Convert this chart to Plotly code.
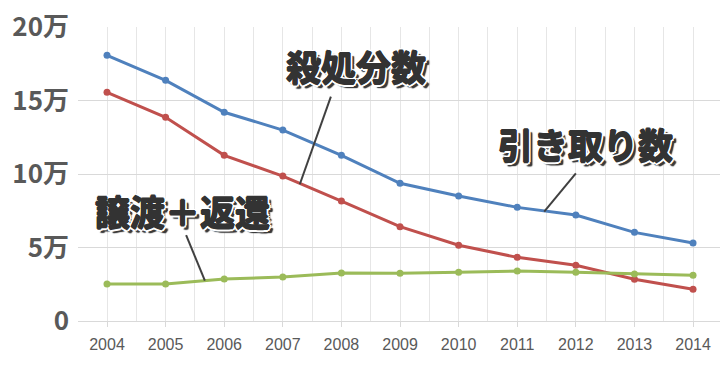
import plotly.graph_objects as go

years = [2004, 2005, 2006, 2007, 2008, 2009, 2010, 2011, 2012, 2013, 2014]
hikitori = [180700, 163700, 142000, 129900, 112700, 93700, 85000, 77300, 72100, 60300, 53100]
satsushobun = [155600, 138600, 112700, 98600, 81600, 64200, 51500, 43300, 37900, 28400, 21600]
joto_henkan = [25200, 25200, 28600, 29900, 32700, 32400, 33100, 34000, 33100, 32000, 31100]

ytick_vals = [0, 50000, 100000, 150000, 200000]
ytick_text = ["0", "5万", "10万", "15万", "20万"]

colors = {"hikitori": "#4F81BD", "satsu": "#C0504D", "joto": "#9BBB59"}

fig = go.Figure()
for name, vals, c in [("引き取り数", hikitori, colors["hikitori"]),
                      ("殺処分数", satsushobun, colors["satsu"]),
                      ("譲渡＋返還", joto_henkan, colors["joto"])]:
    fig.add_trace(go.Scatter(x=years, y=vals, mode="lines+markers", name=name,
                             line=dict(color=c, width=3),
                             marker=dict(color=c, size=7)))

dark = "#333333"
shadow = ", ".join(
    [f"{dx}px {dy}px 0 {dark}" for dx, dy in [(0.7, 0), (-0.7, 0), (0, 0.7), (0, -0.7)]]
    + [f"{dx}px {dy}px 0.5px #fff" for dx, dy in [(2.5, 0), (-2.5, 0), (0, 2.5), (0, -2.5), (1.8, 1.8), (-1.8, -1.8),
                                                   (1.8, -1.8), (-1.8, 1.8)]]
    + ["4px 4px 1px #3a3a3a", "3px 4px 1px #3a3a3a", "4px 3px 1px #3a3a3a"]
)
afont = dict(family="Noto Sans CJK JP", size=35, color=dark, weight="bold", shadow=shadow)

labels = [("殺処分数", 2008.25, 174000), ("引き取り数", 2012.16, 121000), ("譲渡＋返還", 2005.29, 75000)]
for t, x, y in labels:
    fig.add_annotation(text=t, x=x, y=y, xref="x", yref="y", showarrow=False, font=afont)

leaders = [(2007.82, 152600, 2007.29, 93000),
           (2012.0, 100500, 2011.46, 74400),
           (2005.35, 58500, 2005.67, 27400)]
for x0, y0, x1, y1 in leaders:
    fig.add_shape(type="line", x0=x0, y0=y0, x1=x1, y1=y1, xref="x", yref="y",
                  line=dict(color="#404040", width=2))

fig.update_layout(
    width=720, height=367,
    margin=dict(l=78, r=0, t=27, b=46, autoexpand=False),
    plot_bgcolor="white", paper_bgcolor="white",
    showlegend=False,
    xaxis=dict(range=[2003.505, 2014.46], tickvals=years, ticktext=[str(y) for y in years],
               automargin=False,
               showgrid=True, gridcolor="#e6e6e6", gridwidth=1,
               minor=dict(dtick=0.5, tick0=2003.5, showgrid=True, gridcolor="#e6e6e6"),
               ticks="outside", ticklen=5, tickcolor="#d9d9d9",
               tickfont=dict(family="Liberation Sans", size=16, color="#595959"),
               ticklabelstandoff=4,
               zeroline=False, showline=True, linecolor="#d9d9d9"),
    yaxis=dict(range=[0, 200000], tickvals=ytick_vals, ticktext=ytick_text,
               automargin=False,
               showgrid=True, gridcolor="#d9d9d9", gridwidth=1, zeroline=False,
               tickfont=dict(family="Noto Sans CJK JP", size=26, color="#595959", weight="bold"),
               ticks="", ticklabelstandoff=8),
)

fig.write_html("out.html", config={"displayModeBar": False},
               post_script="document.body.style.margin='0';")
